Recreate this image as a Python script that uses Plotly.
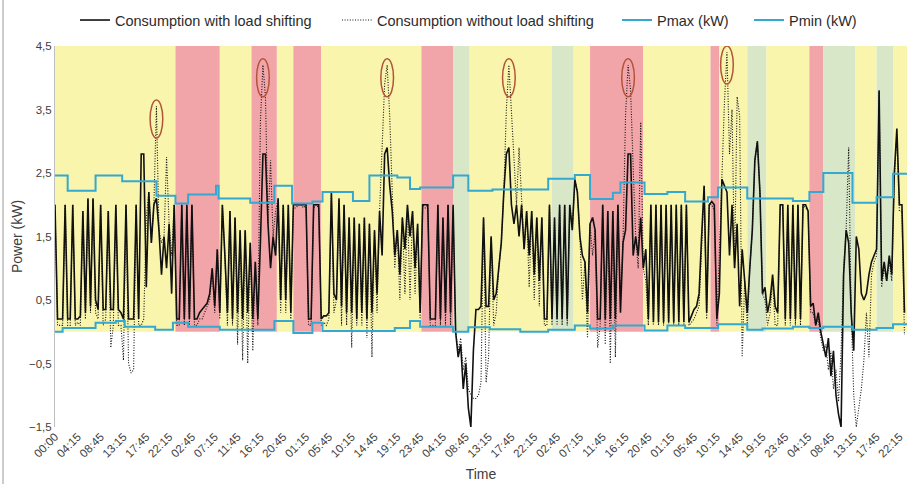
import plotly.graph_objects as go

# ---------------- data ----------------
TICK_LABELS = ["00:00", "04:15", "08:45", "13:15", "17:45", "22:15", "02:45", "07:15", "11:45", "16:15",
               "20:45", "01:15", "05:45", "10:15", "14:45", "19:15", "23:45", "04:15", "08:45", "13:15",
               "17:45", "22:15", "02:45", "07:15", "11:45", "16:15", "20:45", "01:15", "05:45", "10:15",
               "14:45", "19:15", "23:45", "04:15", "08:45", "13:15", "17:45", "22:15"]
TICK_STEP = 18          # quarter-hours between labels
STEP = 2                # quarter-hours between samples (30 min)
N_QUARTERS = 672        # 7 days

# consumption with load shifting (kW), 30-min samples, one list per day
W1 = [2.0,0.2,0.2,0.2,2.0,0.2,0.2,2.0,0.2,0.2, 0.25,1.9,0.3,2.1,0.4,2.1,0.5,0.35,2.0,0.35,
      0.35,1.9,0.35,0.35,2.0,0.35,0.3,0.2,2.0,0.2, 0.2,0.2,2.0,0.2,2.8,2.8,0.7,2.2,1.4,2.0,
      2.1,1.6,0.9,1.5,1.0,1.7,0.6,2.0]
W2 = [0.2,0.2,2.0,0.2,2.0,0.2,2.0,0.2,0.2,0.3, 0.35,0.4,0.45,0.6,1.0,0.4,1.3,0.3,2.0,1.2,
      0.3,1.9,0.2,1.8,0.3,1.6,0.2,1.6,0.3,1.4, 0.2,1.1,0.2,1.4,2.8,2.8,1.7,1.0,1.5,1.2,
      2.1,0.5,2.0,0.5,2.0,0.3,2.0,2.0]
W3 = [2.0,2.0,2.0,2.0,0.2,0.2,2.0,2.0,2.0,0.2, 0.25,0.25,0.3,2.2,0.6,0.5,2.1,0.4,2.0,0.3,
      1.8,0.3,1.8,0.2,1.7,0.3,1.8,0.2,1.7,0.3, 1.6,0.6,1.9,1.2,2.8,2.9,2.3,1.9,1.2,1.6,
      0.9,1.8,1.3,2.0,1.5,1.9,1.0,1.7]
W4 = [0.3,2.0,2.0,2.0,0.2,0.2,0.2,2.0,0.2,1.8, 0.3,2.0,0.3,2.0,0.0,-0.4,-0.2,-0.9,-0.5,-1.2,
      -1.5,-0.3,0.35,0.35,0.4,1.8,0.4,0.4,1.5,0.5, 0.6,1.0,1.4,2.2,2.8,2.9,2.0,1.7,2.0,1.5,
      2.0,1.3,1.9,1.2,1.9,0.9,1.8,0.8]
W5 = [1.8,0.2,0.2,2.0,0.2,1.8,0.2,2.0,0.2,2.0, 0.2,2.0,1.6,2.4,2.2,1.5,1.2,1.1,0.3,1.7,
      1.8,1.6,0.2,0.2,2.0,0.2,1.9,0.2,1.9,0.2, 2.0,0.3,1.4,1.6,2.8,2.8,1.2,1.5,1.2,1.8,
      1.0,1.3,0.2,2.0,0.15,2.0,0.15,2.0]
W6 = [0.15,2.0,0.15,2.0,0.15,2.0,0.15,2.0,0.15,2.0, 0.15,0.25,0.35,0.4,0.6,1.5,2.3,0.3,2.0,2.05,
      2.0,0.2,0.6,2.4,2.3,2.2,1.2,2.0,1.0,1.7, 0.4,1.3,0.8,0.3,1.0,1.6,2.7,3.0,2.2,0.6,
      0.7,0.3,0.5,0.9,0.4,0.3,2.0,2.0]
W7 = [0.2,2.0,0.2,2.0,0.2,2.0,0.2,2.0,2.0,1.9, 0.4,0.45,0.1,0.3,0.0,-0.2,-0.4,-0.1,-0.7,-0.3,
      -1.0,-1.3,-1.5,0.9,1.6,1.4,0.3,-0.3,1.5,1.3, 0.6,0.5,0.6,0.9,1.1,1.2,1.3,3.8,0.8,1.1,
      0.8,1.2,0.9,2.5,3.2,2.0,2.0,0.3]

# consumption without load shifting (kW)
N1 = [2.0,0.1,0.1,0.1,2.0,0.1,0.1,2.0,0.1,0.15, 0.1,1.9,0.2,2.1,0.3,2.1,0.3,0.2,2.0,0.1,
      0.2,1.9,-0.25,0.1,2.0,0.1,0.1,-0.45,2.0,-0.5, -0.65,-0.6,2.0,0.1,0.1,0.2,1.8,2.2,1.4,2.0,
      3.55,1.6,1.4,1.5,2.75,1.7,1.2,2.0]
N2 = [0.1,0.1,2.0,0.1,2.0,0.1,2.0,0.1,0.1,0.2, 0.2,0.3,0.4,0.5,1.0,0.3,1.3,0.2,2.0,1.2,
      0.1,1.9,0.1,1.8,-0.2,1.6,-0.45,1.6,-0.5,1.4, -0.3,1.1,0.1,3.3,4.2,3.7,1.7,2.7,1.5,1.9,
      2.1,0.3,2.0,0.3,2.0,0.2,1.95,1.95]
N3 = [2.0,2.0,1.95,2.0,0.1,0.1,1.95,2.0,1.95,0.1, 0.15,0.1,0.2,2.2,0.3,0.5,2.1,0.1,2.0,0.1,
      1.8,-0.25,1.8,0.1,1.7,0.1,1.8,-0.1,1.7,-0.4, 1.6,0.3,1.9,3.0,3.9,4.2,3.4,2.2,1.0,1.6,
      0.5,1.8,0.6,2.0,0.5,1.9,0.6,1.7]
N4 = [0.2,2.0,1.95,2.0,0.1,0.1,0.1,2.0,0.1,1.8, 0.1,2.0,0.1,1.9,0.0,-0.3,-0.1,-0.6,-0.4,-0.9,
      -1.0,-1.05,-1.05,-1.0,-0.8,1.8,-0.8,-0.4,1.5,0.1, 0.3,1.0,1.4,2.2,3.5,4.2,3.4,2.7,2.0,2.9,
      2.0,1.3,1.9,0.7,1.9,0.5,1.8,0.4]
N5 = [1.8,0.1,0.1,2.0,0.1,1.8,0.1,2.0,0.1,2.0, 0.1,2.0,1.6,2.4,2.2,1.5,0.5,1.1,-0.1,1.7,
      1.2,1.6,-0.25,0.1,2.0,-0.2,1.9,-0.5,1.9,-0.4, 2.0,0.5,1.4,3.4,4.2,3.8,2.6,1.5,1.0,3.3,
      1.0,0.8,0.1,2.0,0.1,2.0,0.1,2.0]
N6 = [0.1,2.0,0.1,2.0,0.1,2.0,0.1,2.0,0.1,2.0, 0.1,0.15,0.2,0.3,0.4,1.3,2.3,0.2,2.0,2.0,
      1.9,0.1,1.2,2.6,3.6,4.4,2.8,3.5,1.0,3.7, 3.4,-0.4,0.8,0.1,1.0,1.6,2.7,3.0,2.2,0.6,
      0.5,0.1,0.3,0.8,0.1,0.1,2.0,2.0]
N7 = [0.1,2.0,0.1,2.0,0.1,2.0,0.1,2.0,1.95,1.9, 0.3,0.3,0.1,0.2,-0.1,-0.3,-0.2,-0.6,-0.3,-0.9,
      -0.6,-1.1,-0.3,1.0,1.6,2.9,0.3,-1.0,-1.5,-1.2, -0.9,-0.45,0.3,-0.4,0.9,1.1,1.2,3.8,0.7,1.0,
      0.8,1.1,0.8,2.4,3.1,1.9,1.9,-0.05]

# Pmax / Pmin step limits: change times (quarter-hour index) and levels (kW)
PMAX_T = [0, 10, 32, 53, 80, 95, 105, 127, 129, 154, 173, 187, 203, 211, 235, 248, 270, 280, 288,
          314, 326, 345, 389, 410, 422, 440, 446, 465, 483, 497, 515, 523, 546, 582, 595, 606, 629,
          648, 661, 672]
PMAX_V = [2.46, 2.22, 2.46, 2.37, 2.14, 2.02, 2.16, 2.3, 2.1, 2.03, 2.3, 2.02, 2.05, 2.2, 2.06, 2.46,
          2.43, 2.25, 2.27, 2.46, 2.22, 2.24, 2.41, 2.47, 2.09, 2.19, 2.35, 2.17, 2.2, 2.05, 2.12, 2.27,
          2.1, 2.06, 2.2, 2.5, 2.03, 2.12, 2.49, 2.49]
PMIN_T = [0, 6, 32, 48, 55, 79, 93, 105, 130, 173, 188, 203, 211, 268, 280, 288, 314, 326, 343, 367,
          389, 410, 422, 440, 465, 483, 497, 523, 546, 558, 582, 595, 606, 629, 648, 661, 672]
PMIN_V = [0.0, 0.06, 0.14, 0.17, 0.08, 0.03, 0.14, 0.08, 0.03, 0.17, -0.02, 0.14, 0.01, 0.06, 0.17,
          0.08, 0.0, 0.07, 0.04, 0.0, 0.03, 0.1, 0.05, 0.1, 0.02, 0.1, 0.06, 0.12, 0.03, 0.05, 0.08,
          0.06, 0.08, 0.03, 0.06, 0.12, 0.12]

# tariff periods (quarter-hour index of start) and type
BAND_START = [0, 95, 130, 155, 175, 188, 210, 289, 314, 327, 392, 409, 422, 464, 517, 524, 546, 561,
              595, 606, 631, 648, 661]
BAND_TYPE = ["Y", "R", "Y", "R", "Y", "R", "Y", "R", "G", "Y", "G", "Y", "R", "Y", "R", "Y", "G", "Y",
             "R", "G", "Y", "G", "Y"]

# highlighted peaks of the unshifted consumption (sample index)
PEAK_SAMPLES = [40, 82, 131, 179, 226, 265]

Y_TICKS = [-1.5, -0.5, 0.5, 1.5, 2.5, 3.5, 4.5]

# ---------------- build ----------------
W = W1 + W2 + W3 + W4 + W5 + W6 + W7
N = N1 + N2 + N3 + N4 + N5 + N6 + N7
X = [i * STEP for i in range(len(W))]

BAND_COLORS = {"Y": "#F9F5AC", "R": "#F2A5A9", "G": "#D8E7C8"}
BLUE = "#33A8D0"
FONT = "Liberation Sans"

fig = go.Figure()
fig.add_trace(go.Scatter(x=X, y=W, mode="lines", name="Consumption with load shifting",
                         line=dict(color="#111111", width=1.6), legend="legend"))
fig.add_trace(go.Scatter(x=X, y=N, mode="lines", name="Consumption without load shifting",
                         line=dict(color="#111111", width=1.1, dash="1px,1.6px"), legend="legend2"))
fig.add_trace(go.Scatter(x=PMAX_T, y=PMAX_V, mode="lines", name="Pmax (kW)", line_shape="hv",
                         line=dict(color=BLUE, width=2), legend="legend3"))
fig.add_trace(go.Scatter(x=PMIN_T, y=PMIN_V, mode="lines", name="Pmin (kW)", line_shape="hv",
                         line=dict(color=BLUE, width=2), legend="legend4"))

shapes = []
ends = BAND_START[1:] + [N_QUARTERS]
for s, e, t in zip(BAND_START, ends, BAND_TYPE):
    shapes.append(dict(type="rect", xref="x", yref="y", x0=s, x1=e, y0=0, y1=4.5,
                       fillcolor=BAND_COLORS[t], line=dict(width=0), layer="below"))
for p in PEAK_SAMPLES:
    xc, pk = X[p], N[p]
    shapes.append(dict(type="circle", xref="x", yref="y", x0=xc - 5, x1=xc + 5,
                       y0=pk - 0.5, y1=pk + 0.1, line=dict(color="#B4533A", width=1.5)))
# outer frame line at the left edge
shapes.append(dict(type="line", xref="paper", yref="paper", x0=-0.061, x1=-0.061, y0=-0.2,
                   y1=1.2, line=dict(color="#9A9A9A", width=1)))

tickvals = [i * TICK_STEP for i in range(len(TICK_LABELS))]

PLOT_L, PLOT_W = 55, 852
def legend_at(px_left):
    return dict(orientation="h", x=(px_left - 3 - PLOT_L) / PLOT_W, xanchor="left", y=1.068,
                yanchor="middle", font=dict(size=14.5, color="#2b2b2b"),
                bgcolor="rgba(0,0,0,0)", itemwidth=30)

fig.update_layout(
    width=910, height=484,
    margin=dict(l=PLOT_L, r=3, t=46, b=57, autoexpand=False),
    paper_bgcolor="white", plot_bgcolor="white",
    separators=",.",
    font=dict(family=FONT, size=12, color="#404040"),
    shapes=shapes,
    showlegend=True,
    legend=legend_at(78), legend2=legend_at(340), legend3=legend_at(620), legend4=legend_at(752),
    xaxis=dict(range=[0, N_QUARTERS], tickmode="array", tickvals=tickvals, ticktext=TICK_LABELS,
               tickangle=-45, tickfont=dict(size=11.5, color="#404040"), showgrid=False,
               zeroline=False, showline=False, ticks="", automargin=False,
               title=dict(text="Time", font=dict(size=14, color="#404040"), standoff=10)),
    yaxis=dict(range=[-1.5, 4.5], tickmode="array", tickvals=Y_TICKS, tickformat=".1f",
               tickfont=dict(size=11.5, color="#404040"), showgrid=False, zeroline=False,
               showline=True, linecolor="#BFBFBF", linewidth=1, ticks="", automargin=False,
               title=dict(text="Power (kW)", font=dict(size=14, color="#404040"), standoff=3)),
)

fig.write_html("out.html", config={"displayModeBar": False},
               post_script="document.body.style.margin='0px';document.body.style.padding='0px';")
